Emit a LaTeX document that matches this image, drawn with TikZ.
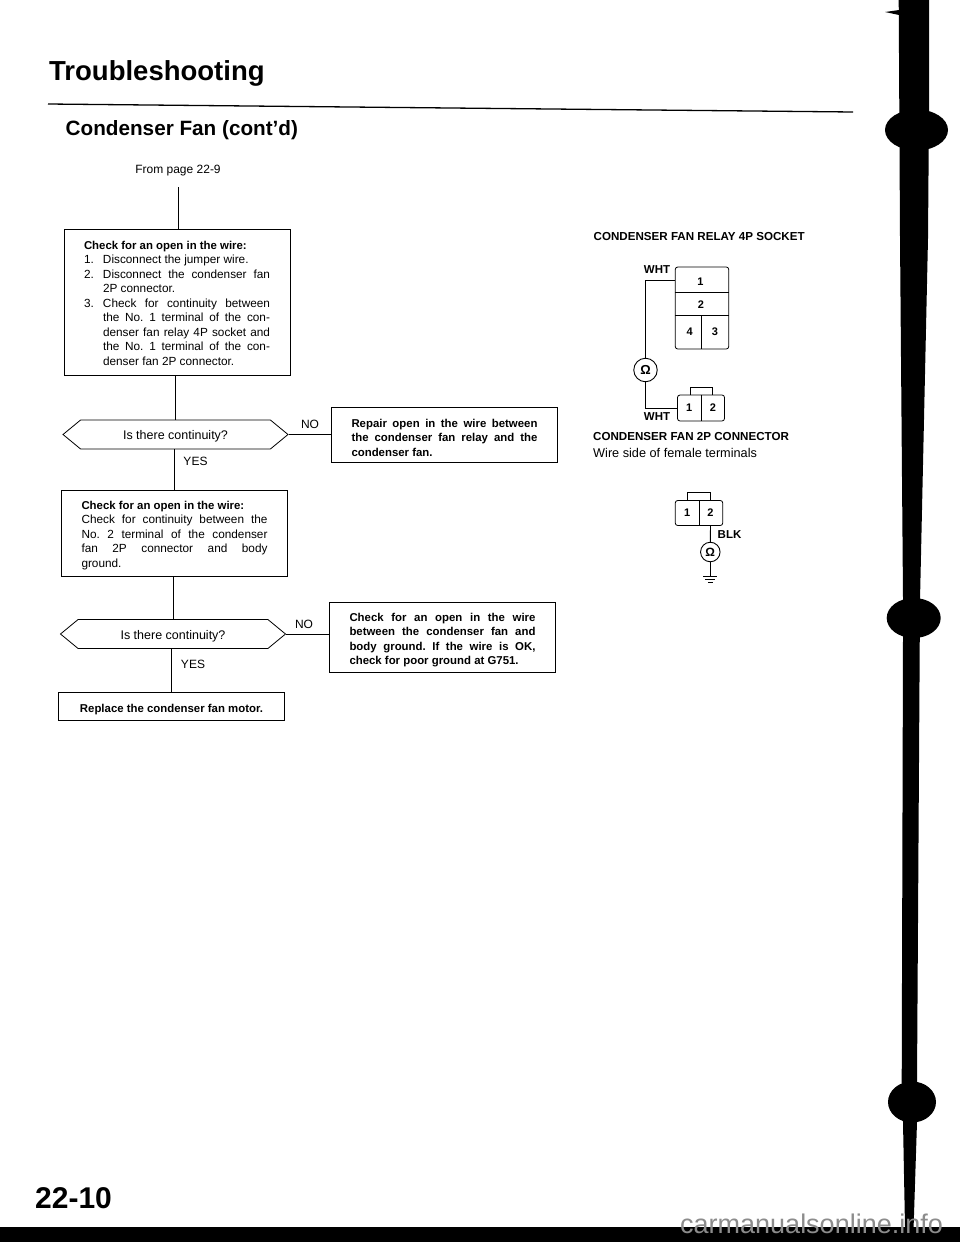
\documentclass[tikz,border=0pt]{standalone}
\usepackage{fontspec}
\setmainfont{Liberation Sans}
\usetikzlibrary{shapes.symbols}
\newcommand{\stepline}[2]{\hangindent=19pt\hangafter=1\noindent\makebox[19pt][l]{#1}#2\par}
\newcommand{\boxsetup}{\frenchspacing\hyphenpenalty=10000 \exhyphenpenalty=0 \tolerance=9999 \hbadness=10000 \hfuzz=4pt }
\newcommand{\boxtext}[2]{\parbox[c]{186pt}{\vspace*{#1}\leftskip=0pt\rightskip=0pt\parfillskip=0pt plus 1fil\relax #2}}
\newcommand{\boxhead}[1]{{\fontsize{11.4}{14.5}\bfseries\selectfont #1\par}}
\tikzset{
    flowbox/.style={draw, line width=0.8pt, text width=186pt, align=justify, inner xsep=20pt, inner ysep=0pt, font=\fontsize{11.8}{14.5}\selectfont\boxsetup},
    boldbox/.style={flowbox, font=\fontsize{11.4}{14.5}\bfseries\selectfont\boxsetup},
    question/.style={draw, line width=0.8pt, signal, signal to=east and west, signal pointer angle=79, minimum width=225pt, minimum height=29pt, inner sep=0pt, text height=11pt, text depth=1pt, font=\fontsize{12.5}{14.5}\selectfont},
    flowline/.style={line width=0.8pt},
    answer/.style={font=\fontsize{12}{14}\selectfont},
    wire/.style={line width=0.9pt},
    pin/.style={inner sep=0pt, font=\fontsize{11}{13}\bfseries\selectfont},
    housing/.style={draw, line width=0.8pt, rounded corners=2.5pt, inner sep=0pt},
    ohm/.style={draw, circle, line width=0.9pt, inner sep=0pt, font=\fontsize{13}{15}\bfseries\selectfont},
    wirelabel/.style={inner sep=0pt, font=\fontsize{11.5}{13}\bfseries\selectfont},
}
\begin{document}
\begin{tikzpicture}[x=1pt, y=-1pt]
    \useasboundingbox (0,0) rectangle (960,1242);

    % Headings
    \node[anchor=base west, inner sep=0pt, font=\fontsize{27.5}{30}\bfseries\selectfont] (title) at (49,80) {Troubleshooting};
    \node[anchor=base west, inner sep=0pt, font=\fontsize{20.7}{23}\bfseries\selectfont] (subtitle) at (65.5,135) {Condenser Fan (cont'd)};
    \draw[line width=1.3pt] (48,104) -- (853,112);

    % Flow chart
    \node[inner sep=0pt, font=\fontsize{12}{14.5}\selectfont] (from) at (178,171) {From page 22-9};
    \coordinate (fromend) at (178,187);

    \node[flowbox, minimum height=146pt] (openone) at (177,302) {\boxtext{2pt}{%
        \boxhead{Check for an open in the wire:}
        \stepline{1.}{Disconnect the jumper wire.}
        \stepline{2.}{Disconnect the condenser fan\linebreak 2P connector.}
        \stepline{3.}{Check for continuity between\linebreak the No. 1 terminal of the con-\linebreak denser fan relay 4P socket and\linebreak the No. 1 terminal of the con-\linebreak denser fan 2P connector.}}};
    \node[question] (askone) at (175.5,434.5) {Is there continuity?};
    \node[boldbox, minimum height=55pt] (repair) at (444.5,434.5) {\boxtext{6pt}{%
        Repair open in the wire between\linebreak the condenser fan relay and the\linebreak condenser fan.}};
    \node[flowbox, minimum height=86pt] (opentwo) at (174.5,533) {\boxtext{5pt}{%
        \boxhead{Check for an open in the wire:}
        Check for continuity between the\linebreak No. 2 terminal of the condenser\linebreak fan 2P connector and body\linebreak ground.}};
    \node[question] (asktwo) at (173,634) {Is there continuity?};
    \node[boldbox, minimum height=70pt] (openthree) at (442.5,637) {\boxtext{6pt}{%
        Check for an open in the wire\linebreak between the condenser fan and\linebreak body ground. If the wire is OK,\linebreak check for poor ground at G751.}};
    \node[boldbox, minimum height=28pt] (motor) at (171.5,706) {\boxtext{7pt}{\centering Replace the condenser fan motor.}};

    \draw[flowline] (fromend) -- (fromend |- openone.north);
    \draw[flowline] (askone.north |- openone.south) -- (askone.north);
    \draw[flowline] (opentwo.north |- askone.south) -- (opentwo.north);
    \draw[flowline] (asktwo.north |- opentwo.south) -- (asktwo.north);
    \draw[flowline] (motor.north |- asktwo.south) -- (motor.north);
    \draw[flowline] (askone.east) -- (askone.east -| repair.west);
    \draw[flowline] (asktwo.east) -- (asktwo.east -| openthree.west);

    \node[answer] (noone) at (310,424.5) {NO};
    \node[answer] (yesone) at (195.5,461) {YES};
    \node[answer] (notwo) at (304,624) {NO};
    \node[answer] (yestwo) at (193,664) {YES};

    % Relay socket
    \node[anchor=west, inner sep=0pt, font=\fontsize{11.6}{13}\bfseries\selectfont] (sockettitle) at (593.5,237) {CONDENSER FAN RELAY 4P SOCKET};
    \node[housing, minimum width=53.5pt, minimum height=82pt] (socket) at (702,308) {};
    \draw[wire] (socket.west |- 0,292.6) -- (socket.east |- 0,292.6);
    \draw[wire] (socket.west |- 0,315.6) -- (socket.east |- 0,315.6);
    \draw[wire] (701.8,315.6) -- (701.8,349);
    \node[pin, minimum width=53.5pt, minimum height=25pt] (sockone) at (702,280) {};
    \node[pin] at (700.5,281.5) {1};
    \node[pin] (socktwo) at (701,305) {2};
    \node[pin] (sockfour) at (689.6,332) {4};
    \node[pin] (sockthree) at (715,332) {3};

    % Fan connector, meter side
    \node[housing, minimum width=47pt, minimum height=26pt] (plug) at (701,408) {};
    \draw[wire] (plug.north) -- (plug.south);
    \draw[wire] (690,395) -- (690,387) -- (712,387) -- (712,395);
    \node[pin, minimum width=23.5pt, minimum height=26pt] (plugone) at (689.2,408) {1};
    \node[pin, minimum width=23.5pt, minimum height=26pt] (plugtwo) at (713,408) {2};

    \node[ohm, minimum size=23.5pt] (meter) at (645.5,370) {Ω};
    \draw[wire] (meter.north) |- (sockone.west);
    \draw[wire] (meter.south) |- (plugone.west);
    \node[wirelabel] (whtone) at (657,270) {WHT};
    \node[wirelabel] (whttwo) at (657,417) {WHT};

    % Caption
    \node[anchor=west, inner sep=0pt, font=\fontsize{11.6}{13}\bfseries\selectfont] (plugtitle) at (593,437) {CONDENSER FAN 2P CONNECTOR};
    \node[anchor=west, inner sep=0pt, font=\fontsize{12.7}{14}\selectfont] (plugnote) at (593,452.5) {Wire side of female terminals};

    % Fan connector, ground side
    \node[housing, minimum width=47.5pt, minimum height=25pt] (lead) at (699,513) {};
    \draw[wire] (lead.north) -- (lead.south);
    \draw[wire] (687.7,500.5) -- (687.7,492) -- (710.7,492) -- (710.7,500.5);
    \node[pin, minimum width=23.5pt, minimum height=25pt] (leadone) at (687.2,513) {1};
    \node[pin, minimum width=23.5pt, minimum height=25pt] (leadtwo) at (710.5,513) {2};
    \node[ohm, minimum size=19.5pt, font=\fontsize{12}{14}\bfseries\selectfont] (meterg) at (710.3,552) {Ω};
    \coordinate (earth) at (710.3,576);
    \draw[wire] (leadtwo.south) -- (meterg.north);
    \draw[wire] (meterg.south) -- (earth);
    \foreach \y/\w in {0/7, 3/5, 6/2.5} {
        \draw[wire] ([shift={(-\w,\y)}]earth) -- ([shift={(\w,\y)}]earth);
    }
    \node[wirelabel, anchor=west] (blk) at (717.5,535) {BLK};

    % Page edge
    \fill (898.7,0) -- (929,0) -- (929,110) -- (928,238) -- (920,600) -- (917,1082)
        -- (917,1122) -- (913.6,1227) -- (905,1227) -- (903,1122) -- (901.7,1082)
        -- (903,638) -- (903,598) -- (900,238) -- cycle;
    \fill (916.5,130) ellipse [x radius=31.5, y radius=20.5];
    \fill (913.7,618) ellipse [x radius=27, y radius=20];
    \fill (912,1102) ellipse [x radius=24, y radius=20.5];
    \fill (885,12) -- (899,10) -- (899,15) -- cycle;
    \fill (0,1227) rectangle (960,1242);

    % Page number, web address
    \node[anchor=base west, inner sep=0pt, font=\fontsize{30}{32}\bfseries\selectfont] (pagenum) at (35,1208) {22-10};
    \node[anchor=base west, inner sep=0pt, text=black!45, font=\fontsize{27}{29}\selectfont] (web) at (680,1233) {carmanualsonline.info};
\end{tikzpicture}
\end{document}
